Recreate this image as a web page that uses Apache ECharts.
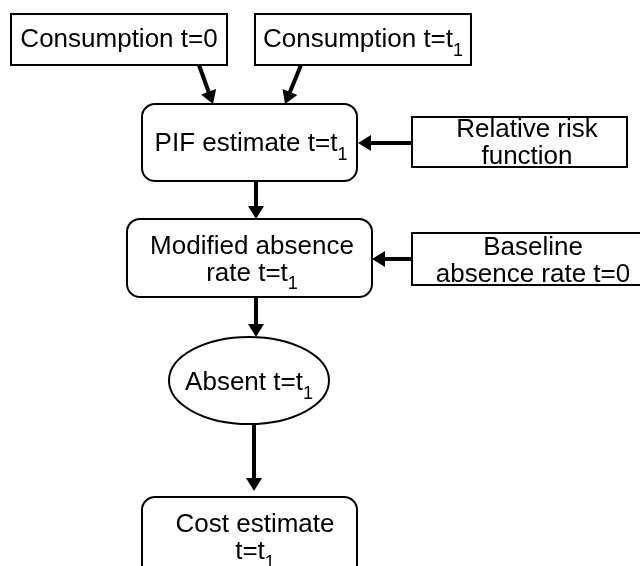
<!DOCTYPE html>
<html>
<head>
<meta charset="utf-8">
<script src="https://cdn.jsdelivr.net/npm/echarts@6/dist/echarts.min.js"></script>
<style>
  html, body { margin: 0; padding: 0; background: #fff; }
  #chart { width: 640px; height: 566px; }
</style>
</head>
<body>
<div id="chart"></div>
<script>
// flowchart nodes (page coordinates, y goes down)
const nodeLabels = [
  'Consumption t=0',
  'Consumption t=t{s|1}',
  'PIF estimate t=t{s|1}',
  'Relative risk\nfunction',
  'Modified absence\nrate t=t{s|1}',
  'Baseline\nabsence rate t=0',
  'Absent t=t{s|1}',
  'Cost estimate\nt=t{s|1}'
]
const nodeShapes = ['rect', 'rect', 'round', 'rect', 'round', 'rect', 'ellipse', 'round']
const nodeLeft = [11, 255, 142, 412, 127, 412, 169, 142]
const nodeTop = [14, 14, 104, 117, 219, 233, 337, 497]
const nodeRight = [227, 471, 357, 627, 372, 645, 329, 357]
const nodeBottom = [65, 65, 181, 167, 297, 285, 424, 600]
const labelX = [119, 363, 251, 527, 252, 533, 249, 255]
const labelY = [40, 40, 144, 143.5, 260, 261, 383, 538.5]

// arrows: start point -> tip
const arrowFrom = [[199, 65], [301, 65], [412, 143], [256, 181], [412, 259], [256, 297], [254, 424]]
const arrowTo = [[213, 104], [285, 104], [358, 143], [256, 219], [372, 259], [256, 337], [254, 491]]

const FONT = '"Liberation Sans", Arial, sans-serif'

const chart = echarts.init(document.getElementById('chart'))

function renderNode(params, api) {
  const i = params.dataIndex
  const p0 = api.coord([api.value(0), api.value(1)])
  const p1 = api.coord([api.value(2), api.value(3)])
  const lp = api.coord([api.value(4), api.value(5)])
  const boxStyle = { fill: '#fff', stroke: '#000', lineWidth: 2 }
  let shape
  if (nodeShapes[i] === 'ellipse') {
    shape = {
      type: 'ellipse',
      shape: { cx: (p0[0] + p1[0]) / 2, cy: (p0[1] + p1[1]) / 2, rx: (p1[0] - p0[0]) / 2, ry: (p1[1] - p0[1]) / 2 },
      style: boxStyle
    }
  } else {
    shape = {
      type: 'rect',
      shape: { x: p0[0], y: p0[1], width: p1[0] - p0[0], height: p1[1] - p0[1], r: nodeShapes[i] === 'round' ? 13 : 0 },
      style: boxStyle
    }
  }
  return {
    type: 'group',
    children: [
      shape,
      {
        type: 'text',
        style: {
          x: lp[0], y: lp[1],
          text: nodeLabels[i],
          fill: '#000',
          fontSize: 26,
          fontFamily: FONT,
          align: 'center',
          verticalAlign: 'middle',
          lineHeight: 27,
          rich: {
            // subscript: small box pinned to the line bottom pushes the digit below the baseline
            s: { fontSize: 18, fontFamily: FONT, height: 5, lineHeight: 5, verticalAlign: 'bottom' }
          }
        }
      }
    ]
  }
}

function renderArrow(params, api) {
  const a = api.coord([api.value(0), api.value(1)])
  const b = api.coord([api.value(2), api.value(3)])
  const dx = b[0] - a[0], dy = b[1] - a[1]
  const len = Math.sqrt(dx * dx + dy * dy)
  const ux = dx / len, uy = dy / len
  const headLen = 13, headHalf = 8
  const base = [b[0] - ux * headLen, b[1] - uy * headLen]
  return {
    type: 'group',
    children: [
      {
        type: 'line',
        shape: { x1: a[0], y1: a[1], x2: base[0] + ux, y2: base[1] + uy },
        style: { stroke: '#000', lineWidth: 4 }
      },
      {
        type: 'polygon',
        shape: {
          points: [
            b,
            [base[0] - uy * headHalf, base[1] + ux * headHalf],
            [base[0] + uy * headHalf, base[1] - ux * headHalf]
          ]
        },
        style: { fill: '#000' }
      }
    ]
  }
}

chart.setOption({
  animation: false,
  grid: { left: 0, right: 0, top: 0, bottom: 0 },
  xAxis: { type: 'value', min: 0, max: 640, show: false },
  yAxis: { type: 'value', min: 0, max: 566, inverse: true, show: false },
  series: [
    {
      type: 'custom',
      renderItem: renderNode,
      data: nodeLabels.map((_, i) => [nodeLeft[i], nodeTop[i], nodeRight[i], nodeBottom[i], labelX[i], labelY[i]])
    },
    {
      type: 'custom',
      renderItem: renderArrow,
      data: arrowFrom.map((f, i) => [f[0], f[1], arrowTo[i][0], arrowTo[i][1]])
    }
  ]
})
</script>
</body>
</html>
